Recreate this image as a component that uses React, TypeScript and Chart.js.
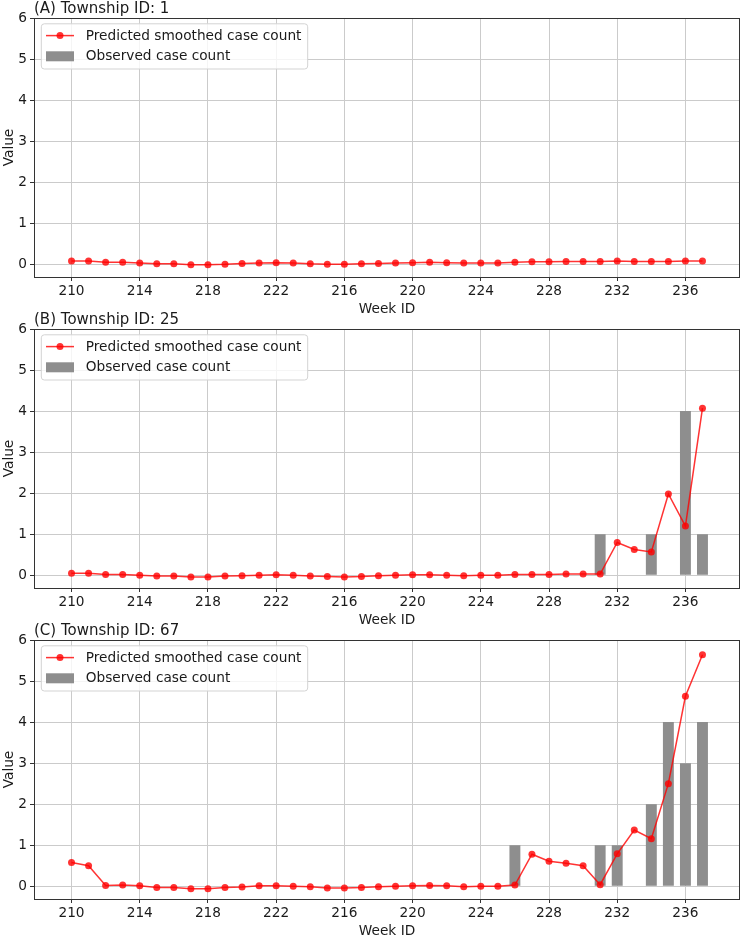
import React, { useEffect, useRef } from "react";
import { Chart, registerables } from "chart.js";
Chart.register(...registerables);

// ---- data ----
const weekLabels = [
  "210", "211", "212", "213", "214", "215", "216", "217", "218", "219",
  "220", "221", "222", "223", "214", "215", "216", "217", "218", "219",
  "220", "221", "222", "223", "224", "225", "226", "227", "228", "229",
  "230", "231", "232", "233", "234", "235", "236", "237",
];
const xTickIndices = [0, 4, 8, 12, 16, 20, 24, 28, 32, 36];
const yTickValues = [0, 1, 2, 3, 4, 5, 6];

const panelTitles = ["(A) Township ID: 1", "(B) Township ID: 25", "(C) Township ID: 67"];
const seriesNames = ["Predicted smoothed case count", "Observed case count"];
const xAxisTitle = "Week ID";
const yAxisTitle = "Value";

const predA = [
  0.08, 0.08, 0.05, 0.05, 0.03, 0.01, 0.01, -0.01, -0.01, 0.0,
  0.02, 0.03, 0.04, 0.03, 0.01, 0.0, 0.0, 0.01, 0.02, 0.03,
  0.04, 0.05, 0.04, 0.03, 0.03, 0.03, 0.05, 0.06, 0.06, 0.07,
  0.07, 0.07, 0.08, 0.07, 0.07, 0.07, 0.08, 0.08,
];
const obsA = [
  0, 0, 0, 0, 0, 0, 0, 0, 0, 0,
  0, 0, 0, 0, 0, 0, 0, 0, 0, 0,
  0, 0, 0, 0, 0, 0, 0, 0, 0, 0,
  0, 0, 0, 0, 0, 0, 0, 0,
];
const predB = [
  0.05, 0.05, 0.02, 0.02, 0.0, -0.02, -0.02, -0.04, -0.04, -0.02,
  -0.01, 0.0, 0.01, 0.0, -0.02, -0.03, -0.04, -0.03, -0.01, 0.0,
  0.01, 0.01, 0.0, -0.01, 0.0, 0.0, 0.02, 0.02, 0.02, 0.03,
  0.03, 0.03, 0.8, 0.63, 0.57, 1.98, 1.2, 4.07,
];
const obsB = [
  0, 0, 0, 0, 0, 0, 0, 0, 0, 0,
  0, 0, 0, 0, 0, 0, 0, 0, 0, 0,
  0, 0, 0, 0, 0, 0, 0, 0, 0, 0,
  0, 1, 0, 0, 1, 0, 4, 1,
];
const predC = [
  0.58, 0.5, 0.02, 0.03, 0.01, -0.03, -0.03, -0.06, -0.06, -0.03,
  -0.02, 0.01, 0.01, 0.0, -0.01, -0.04, -0.04, -0.03, -0.01, 0.0,
  0.01, 0.02, 0.01, -0.01, 0.0, 0.0, 0.03, 0.78, 0.61, 0.56,
  0.5, 0.04, 0.79, 1.37, 1.16, 2.5, 4.63, 5.64,
];
const obsC = [
  0, 0, 0, 0, 0, 0, 0, 0, 0, 0,
  0, 0, 0, 0, 0, 0, 0, 0, 0, 0,
  0, 0, 0, 0, 0, 0, 1, 0, 0, 0,
  0, 1, 1, 0, 2, 4, 3, 4,
];

const predSeries = [predA, predB, predC];
const obsSeries = [obsA, obsB, obsC];

// ---- styles ----
const FONT = "'DejaVu Sans', sans-serif";
const FS = 13.7;
const TITLE_FS = 15;
const LINE_COLOR = "rgba(255,0,0,0.8)";
const BAR_COLOR = "#8e8e8e";
const GRID_COLOR = "#cbcbcb";
const TEXT_COLOR = "#1a1a1a";
const CANVAS_W = 744;
const CANVAS_H = 330;
const PANEL_TOPS = [0, 311, 622];

function makeDecor(title: string) {
  return {
    id: "decor",
    afterDraw(chart: any) {
      const ctx = chart.ctx as CanvasRenderingContext2D;
      const { left, right, top, bottom } = chart.chartArea;
      ctx.save();
      // frame
      ctx.strokeStyle = "#333";
      ctx.lineWidth = 1;
      ctx.strokeRect(Math.round(left) + 0.5, Math.round(top) + 0.5, Math.round(right - left) - 1, Math.round(bottom - top));

      // title
      ctx.fillStyle = TEXT_COLOR;
      ctx.font = `${TITLE_FS}px ${FONT}`;
      ctx.textAlign = "left";
      ctx.textBaseline = "alphabetic";
      ctx.fillText(title, left, top - 5.5);

      // axis titles
      ctx.font = `${FS}px ${FONT}`;
      ctx.textAlign = "center";
      ctx.textBaseline = "alphabetic";
      ctx.fillText(xAxisTitle, (left + right) / 2, bottom + 36);
      ctx.save();
      ctx.translate(12.5, (top + bottom) / 2);
      ctx.rotate(-Math.PI / 2);
      ctx.fillText(yAxisTitle, 0, 0);
      ctx.restore();

      // legend
      const bx = left + 7.3;
      const by = top + 5.8;
      const bw = 266.4;
      const bh = 45.2;
      ctx.beginPath();
      const r = 3;
      ctx.moveTo(bx + r, by);
      ctx.lineTo(bx + bw - r, by);
      ctx.arcTo(bx + bw, by, bx + bw, by + r, r);
      ctx.lineTo(bx + bw, by + bh - r);
      ctx.arcTo(bx + bw, by + bh, bx + bw - r, by + bh, r);
      ctx.lineTo(bx + r, by + bh);
      ctx.arcTo(bx, by + bh, bx, by + bh - r, r);
      ctx.lineTo(bx, by + r);
      ctx.arcTo(bx, by, bx + r, by, r);
      ctx.closePath();
      ctx.fillStyle = "rgba(255,255,255,0.8)";
      ctx.fill();
      ctx.strokeStyle = "#d3d3d3";
      ctx.lineWidth = 1;
      ctx.stroke();

      const row1 = top + 17.6;
      const row2 = top + 38.3;
      ctx.strokeStyle = LINE_COLOR;
      ctx.lineWidth = 1.5;
      ctx.beginPath();
      ctx.moveTo(left + 12, row1);
      ctx.lineTo(left + 40, row1);
      ctx.stroke();
      ctx.fillStyle = LINE_COLOR;
      ctx.beginPath();
      ctx.arc(left + 26, row1, 3.5, 0, Math.PI * 2);
      ctx.fill();

      ctx.fillStyle = BAR_COLOR;
      ctx.fillRect(left + 12, row2 - 5, 28, 10);

      ctx.fillStyle = TEXT_COLOR;
      ctx.font = `${FS}px ${FONT}`;
      ctx.textAlign = "left";
      ctx.textBaseline = "middle";
      ctx.fillText(seriesNames[0], left + 51.7, row1 + 0.5);
      ctx.fillText(seriesNames[1], left + 51.7, row2 + 0.5);
      ctx.restore();
    },
  };
}

function Panel({ index }: { index: number }) {
  const ref = useRef<HTMLCanvasElement>(null);
  useEffect(() => {
    const pred = predSeries[index];
    const obs = obsSeries[index];
    const chart = new Chart(ref.current as HTMLCanvasElement, {
      type: "line",
      data: {
        datasets: [
          {
            type: "line",
            label: seriesNames[0],
            data: pred.map((y, i) => ({ x: i, y })),
            borderColor: LINE_COLOR,
            backgroundColor: LINE_COLOR,
            borderWidth: 1.5,
            pointRadius: 3.5,
            pointBorderWidth: 0,
            pointBackgroundColor: LINE_COLOR,
            tension: 0,
            order: 0,
          } as any,
          {
            type: "bar",
            label: seriesNames[1],
            data: obs.map((y, i) => ({ x: i, y })),
            backgroundColor: BAR_COLOR,
            borderWidth: 0,
            categoryPercentage: 1,
            barPercentage: 0.64,
            order: 1,
          } as any,
        ],
      },
      options: {
        animation: false,
        responsive: false,
        devicePixelRatio: 1,
        layout: { padding: { left: 0, right: 2, top: 18, bottom: CANVAS_H - 311 } },
        plugins: {
          legend: { display: false },
          tooltip: { enabled: false },
          title: { display: false },
        },
        scales: {
          x: {
            type: "linear",
            min: -2.2,
            max: 39.2,
            offset: false,
            afterBuildTicks: (scale: any) => {
              scale.ticks = xTickIndices.map((v) => ({ value: v }));
            },
            afterFit: (scale: any) => {
              scale.height = 34;
            },
            ticks: {
              autoSkip: false,
              maxRotation: 0,
              padding: 2,
              color: TEXT_COLOR,
              font: { family: FONT, size: FS },
              callback: (v: any) => weekLabels[Number(v)] ?? "",
            },
            grid: {
              color: GRID_COLOR,
              lineWidth: 1,
              tickColor: "#333",
              tickLength: 4,
              offset: false,
            },
            border: { display: false },
          },
          y: {
            type: "linear",
            min: -0.31,
            max: 6,
            afterBuildTicks: (scale: any) => {
              scale.ticks = yTickValues.map((v) => ({ value: v }));
            },
            afterFit: (scale: any) => {
              scale.width = 34;
            },
            ticks: {
              padding: 3,
              color: TEXT_COLOR,
              font: { family: FONT, size: FS },
              callback: (v: any) => String(v),
            },
            grid: {
              color: GRID_COLOR,
              lineWidth: 1,
              tickColor: "#333",
              tickLength: 4,
            },
            border: { display: false },
          },
        },
      },
      plugins: [makeDecor(panelTitles[index])],
    } as any);
    return () => chart.destroy();
  }, [index]);
  return (
    <canvas
      ref={ref}
      width={CANVAS_W}
      height={CANVAS_H}
      style={{ position: "absolute", left: 0, top: PANEL_TOPS[index], width: CANVAS_W, height: CANVAS_H }}
    />
  );
}

export default function App() {
  return (
    <div style={{ position: "absolute", left: 0, top: 0, width: 744, height: 935, background: "#fff" }}>
      <Panel index={0} />
      <Panel index={1} />
      <Panel index={2} />
    </div>
  );
}
